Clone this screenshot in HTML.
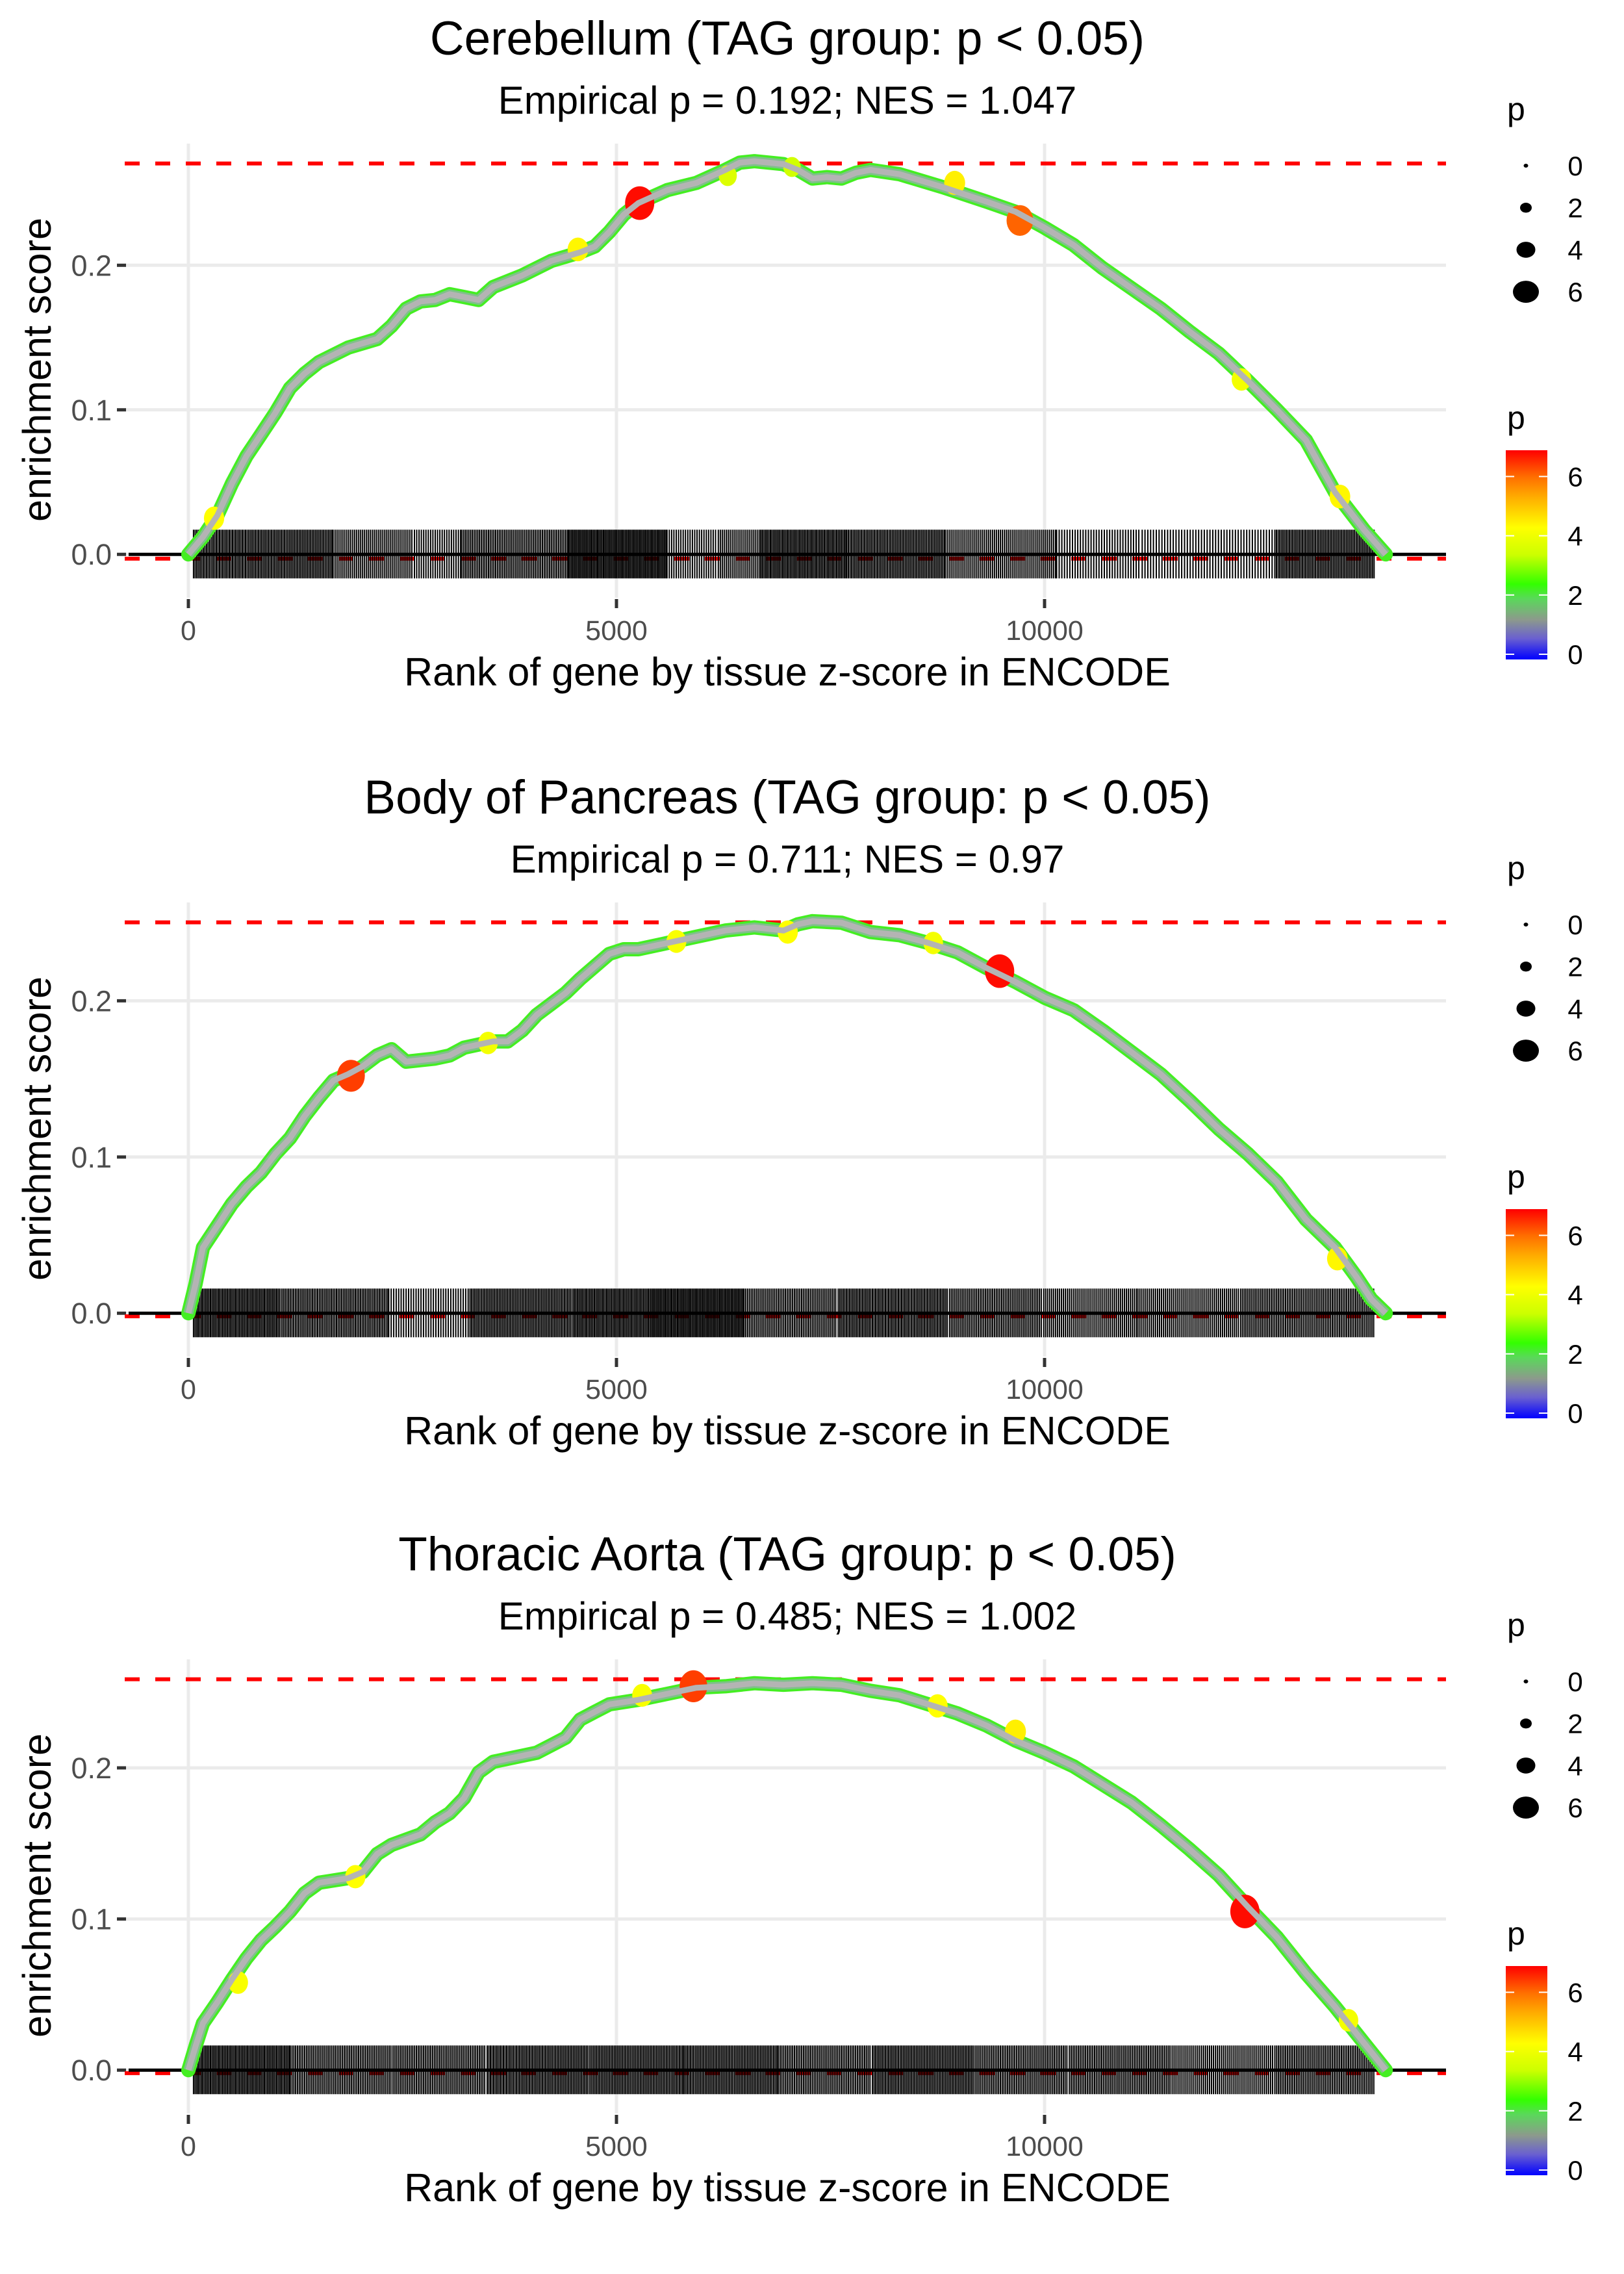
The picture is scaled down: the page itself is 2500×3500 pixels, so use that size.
<!DOCTYPE html>
<html><head><meta charset="utf-8"><style>
html,body{margin:0;padding:0;background:#fff}
svg{display:block;font-family:"Liberation Sans",sans-serif}
</style></head><body>
<svg id="chart" width="2500" height="3500" viewBox="0 0 2500 3500" xmlns="http://www.w3.org/2000/svg">
<defs>
<linearGradient id="pgrad" x1="0" y1="1" x2="0" y2="0">
<stop offset="0" stop-color="#0000ff"/>
<stop offset="0.1" stop-color="#6a60d0"/>
<stop offset="0.19" stop-color="#8c9a8c"/>
<stop offset="0.29" stop-color="#5ad85a"/>
<stop offset="0.36" stop-color="#33ff00"/>
<stop offset="0.5" stop-color="#ccff00"/>
<stop offset="0.63" stop-color="#ffff00"/>
<stop offset="0.78" stop-color="#ffaa00"/>
<stop offset="0.87" stop-color="#ff7000"/>
<stop offset="1" stop-color="#ff0000"/>
</linearGradient>
</defs>
</svg>
<script>
const titles = ["Cerebellum (TAG group: p < 0.05)", "Body of Pancreas (TAG group: p < 0.05)", "Thoracic Aorta (TAG group: p < 0.05)"];
const subtitles = ["Empirical p = 0.192; NES = 1.047", "Empirical p = 0.711; NES = 0.97", "Empirical p = 0.485; NES = 1.002"];
const xTicks = [0, 5000, 10000];
const xTickLabels = ["0", "5000", "10000"];
const yTicks = [0, 0.1, 0.2];
const yTickLabels = ["0.0", "0.1", "0.2"];
const sizeLegendValues = [0, 2, 4, 6];
const colorLegendValues = [0, 2, 4, 6];

const rank1 = [0,170,339,509,678,848,1017,1187,1356,1526,1865,2204,2373,2543,2712,2882,3051,3221,3390,3560,3899,4238,4577,4746,4916,5085,5255,5594,5933,6272,6441,6611,6950,7119,7289,7458,7628,7797,7967,8306,8814,9323,9662,10001,10340,10679,11018,11357,11696,12035,12375,12714,13053,13392,13731,13985];
const es1 = [0,.012,.027,.049,.068,.083,.098,.115,.125,.133,.143,.149,.158,.170,.175,.176,.180,.178,.176,.185,.193,.203,.209,.213,.223,.235,.243,.252,.257,.266,.271,.272,.270,.266,.260,.261,.260,.264,.266,.263,.254,.244,.237,.226,.214,.198,.184,.170,.154,.139,.120,.100,.079,.043,.017,0];
const rank2 = [0,85,170,339,509,678,848,1017,1187,1356,1526,1695,1865,2034,2204,2373,2543,2712,2882,3051,3221,3560,3729,3899,4068,4238,4407,4577,4916,5085,5255,5594,5933,6272,6611,6950,7119,7289,7628,7967,8306,8645,8984,9323,9662,10001,10340,10679,11018,11357,11696,12035,12375,12714,13053,13392,13646,13815,13985];
const es2 = [0,.019,.042,.056,.070,.081,.090,.102,.112,.126,.138,.149,.153,.158,.165,.169,.161,.162,.163,.165,.170,.174,.174,.181,.191,.198,.205,.214,.230,.233,.233,.237,.241,.245,.247,.245,.249,.251,.250,.244,.242,.237,.231,.221,.212,.202,.194,.181,.167,.153,.136,.118,.102,.084,.060,.042,.023,.009,0];
const rank3 = [0,85,170,339,509,678,848,1017,1187,1356,1526,1865,2034,2204,2373,2712,2882,3051,3221,3390,3560,3729,3899,4068,4238,4407,4577,4746,4916,5255,5594,5933,6272,6611,6950,7289,7628,7967,8306,8645,8984,9323,9662,10001,10340,10679,11018,11357,11696,12035,12375,12714,13053,13392,13731,13985];
const es3 = [0,.016,.031,.045,.060,.074,.086,.095,.105,.117,.124,.127,.131,.143,.149,.156,.164,.170,.180,.197,.204,.206,.208,.210,.215,.220,.232,.237,.242,.245,.249,.253,.254,.256,.255,.256,.255,.251,.248,.242,.236,.228,.218,.210,.201,.189,.177,.162,.146,.129,.108,.088,.064,.042,.018,0];

const markRank1 = [300,4550,5271,6300,7050,8950,9712,12300,13450];
const markEs1 = [.025,.211,.243,.262,.268,.257,.231,.121,.040];
const markP1 = [4.4,4.5,6.9,3.8,3.6,4.6,6.2,4.2,4.5];
const markRank2 = [1899,3500,5700,7000,8700,9475,13420];
const markEs2 = [.152,.173,.238,.244,.237,.219,.035];
const markP2 = [6.5,4.2,4.3,4.4,4.2,6.9,4.5];
const markRank3 = [580,1950,5300,5899,8750,9660,12340,13550];
const markEs3 = [.058,.128,.248,.254,.241,.224,.105,.033];
const markP3 = [4.3,4.4,4.3,6.5,4.4,4.6,6.9,4.2];

const maxLine = [0.2704, 0.2502, 0.2586];
const minLine = [-0.003, -0.002, -0.002];

const rugStart1 = [60,1690,2640,3190,4440,5590,6190,6690,7690,8840,10140,11140,12690];
const rugEnd1 = [1680,2630,3180,4430,5580,6180,6680,7680,8830,10130,11130,12680,13850];
const rugStep1 = [19,23,27,21,17,27,23,18,19,23,31,33,19];
const rugStart2 = [60,1090,2340,3290,4490,5390,6490,7590,8890,9990,11090,12290];
const rugEnd2 = [1080,2330,3280,4480,5380,6480,7580,8880,9980,11080,12280,13850];
const rugStep2 = [18,20,29,19,18,17,21,19,21,23,23,21];
const rugStart3 = [60,1190,2390,3490,4690,5790,6890,7990,9190,10290,11490,12690];
const rugEnd3 = [1180,2380,3480,4680,5780,6880,7980,9180,10280,11480,12680,13850];
const rugStep3 = [18,21,21,19,19,19,21,19,21,21,23,21];

const NS = "http://www.w3.org/2000/svg";
const svg = document.getElementById("chart");
function el(tag, attrs, parent) {
  const e = document.createElementNS(NS, tag);
  for (const k in attrs) e.setAttribute(k, attrs[k]);
  (parent || svg).appendChild(e);
  return e;
}
function pColor(p) {
  const stops = [[0,[0,0,255]],[0.7,[106,96,208]],[1.33,[140,154,140]],[2,[90,216,90]],[2.5,[51,255,0]],[3.5,[204,255,0]],[4.4,[255,255,0]],[5.5,[255,170,0]],[6.1,[255,112,0]],[7,[255,0,0]]];
  for (let i = 1; i < stops.length; i++) {
    if (p <= stops[i][0]) {
      const t = (p - stops[i-1][0]) / (stops[i][0] - stops[i-1][0]);
      const c = stops[i-1][1].map((v, j) => Math.round(v + t * (stops[i][1][j] - v)));
      return "rgb(" + c.join(",") + ")";
    }
  }
  return "rgb(255,0,0)";
}
function pRadius(p) { return 3.5 + p * 2.75; }

const ranks = [rank1, rank2, rank3];
const ess = [es1, es2, es3];
const mR = [markRank1, markRank2, markRank3];
const mE = [markEs1, markEs2, markEs3];
const mP = [markP1, markP2, markP3];
const rS = [rugStart1, rugStart2, rugStart3];
const rE = [rugEnd1, rugEnd2, rugEnd3];
const rSt = [rugStep1, rugStep2, rugStep3];
const offsets = [0, 1168, 2333];

const PX0 = 192, PX1 = 2226, PTOP = 221, PH = 699, CX = 1212;
const xs = r => 290 + r * 0.1318;

for (let k = 0; k < 3; k++) {
  const off = offsets[k];
  const M = maxLine[k];
  const lo = -0.111 * M, hi = 1.051 * M;
  const ys = v => off + PTOP + (hi - v) / (hi - lo) * PH;
  const g = el("g", {});
  
  

  let t = el("text", {x: CX, y: off + 84, "text-anchor": "middle", "font-size": 73, fill: "#000"}, g);
  t.textContent = titles[k];
  
  
  t = el("text", {x: CX, y: off + 175, "text-anchor": "middle", "font-size": 60, fill: "#000"}, g);
  t.textContent = subtitles[k];
  
  

  yTicks.forEach((v, i) => {
    const l = el("line", {x1: PX0, x2: PX1, y1: ys(v), y2: ys(v), stroke: "#ebebeb", "stroke-width": 5}, g);
    
    
    const tk = el("line", {x1: 180, x2: 194, y1: ys(v), y2: ys(v), stroke: "#333", "stroke-width": 5}, g);
    
    
    const lb = el("text", {x: 172, y: ys(v) + 16, "text-anchor": "end", "font-size": 45, fill: "#4d4d4d"}, g);
    lb.textContent = yTickLabels[i];
    
    
  });
  xTicks.forEach((v, i) => {
    const l = el("line", {x1: xs(v), x2: xs(v), y1: off + PTOP, y2: off + PTOP + PH, stroke: "#ebebeb", "stroke-width": 5}, g);
    
    
    const tk = el("line", {x1: xs(v), x2: xs(v), y1: off + 922, y2: off + 936, stroke: "#333", "stroke-width": 5}, g);
    
    
    const lb = el("text", {x: xs(v), y: off + 985, "text-anchor": "middle", "font-size": 43, fill: "#4d4d4d"}, g);
    lb.textContent = xTickLabels[i];
    
    
  });

  [maxLine[k], minLine[k]].forEach((v, i) => {
    const l = el("line", {x1: PX0, x2: PX1, y1: ys(v), y2: ys(v), stroke: "#ff0000", "stroke-width": 6, "stroke-dasharray": "23 24"}, g);
    
    
  });

  let d = "";
  const y0 = ys(0);
  for (let s = 0; s < rS[k].length; s++) {
    for (let r = rS[k][s]; r <= rE[k][s]; r += rSt[k][s]) {
      d += "M" + xs(r).toFixed(1) + " " + (y0 - 38).toFixed(1) + "V" + (y0 + 37).toFixed(1);
    }
  }
  const rug = el("path", {d: d, stroke: "#000", "stroke-width": 2, fill: "none"}, g);
  
  

  const z = el("line", {x1: PX0 + 6, x2: PX1, y1: y0, y2: y0, stroke: "#000", "stroke-width": 5}, g);
  
  

  const pts = ranks[k].map((r, i) => xs(r).toFixed(1) + "," + ys(ess[k][i]).toFixed(1)).join(" ");
  const c1 = el("polyline", {points: pts, fill: "none", stroke: "#44ee22", "stroke-width": 22, "stroke-linejoin": "round", "stroke-linecap": "round"}, g);
  
  
  const c0 = el("polyline", {points: pts, fill: "none", stroke: "#7fc08a", "stroke-width": 15, "stroke-linejoin": "round"}, g);
  
  
  mR[k].forEach((r, i) => {
    const c = el("ellipse", {cx: xs(r), cy: ys(mE[k][i]), rx: pRadius(mP[k][i]), ry: pRadius(mP[k][i]) * 1.15, fill: pColor(mP[k][i])}, g);
    
    
  });
  const c2 = el("polyline", {points: pts, fill: "none", stroke: "#b4b4b4", "stroke-width": 9, "stroke-linejoin": "round"}, g);
  
  

  t = el("text", {x: CX, y: off + 1055, "text-anchor": "middle", "font-size": 61, fill: "#000"}, g);
  t.textContent = "Rank of gene by tissue z-score in ENCODE";
  
  
  t = el("text", {x: 0, y: 0, "text-anchor": "middle", "font-size": 61, fill: "#000", transform: "translate(78," + (off + 569) + ") rotate(-90)"}, g);
  t.textContent = "enrichment score";
  
  

  t = el("text", {x: 2320, y: off + 185, "font-size": 50, fill: "#000"}, g);
  t.textContent = "p";
  
  
  sizeLegendValues.forEach((v, i) => {
    const cy = off + 255 + i * 64.7;
    const c = el("ellipse", {cx: 2349, cy: cy, rx: pRadius(v), ry: pRadius(v) * 0.85, fill: "#000"}, g);
    
    
    const lb = el("text", {x: 2425, y: cy + 15, "text-anchor": "middle", "font-size": 42, fill: "#000"}, g);
    lb.textContent = String(v);
    
    
  });

  t = el("text", {x: 2320, y: off + 660, "font-size": 50, fill: "#000"}, g);
  t.textContent = "p";
  
  
  const bar = el("rect", {x: 2318, y: off + 693, width: 64, height: 322, fill: "url(#pgrad)"}, g);
  
  
  colorLegendValues.forEach(v => {
    const cy = off + 1007 - v * 45.6;
    const a = el("line", {x1: 2318, x2: 2331, y1: cy, y2: cy, stroke: "#fff", "stroke-width": 2}, g);
    
    
    const b = el("line", {x1: 2369, x2: 2382, y1: cy, y2: cy, stroke: "#fff", "stroke-width": 2}, g);
    
    
    const lb = el("text", {x: 2425, y: cy + 15, "text-anchor": "middle", "font-size": 42, fill: "#000"}, g);
    lb.textContent = String(v);
    
    
  });
}
</script>
</body></html>
